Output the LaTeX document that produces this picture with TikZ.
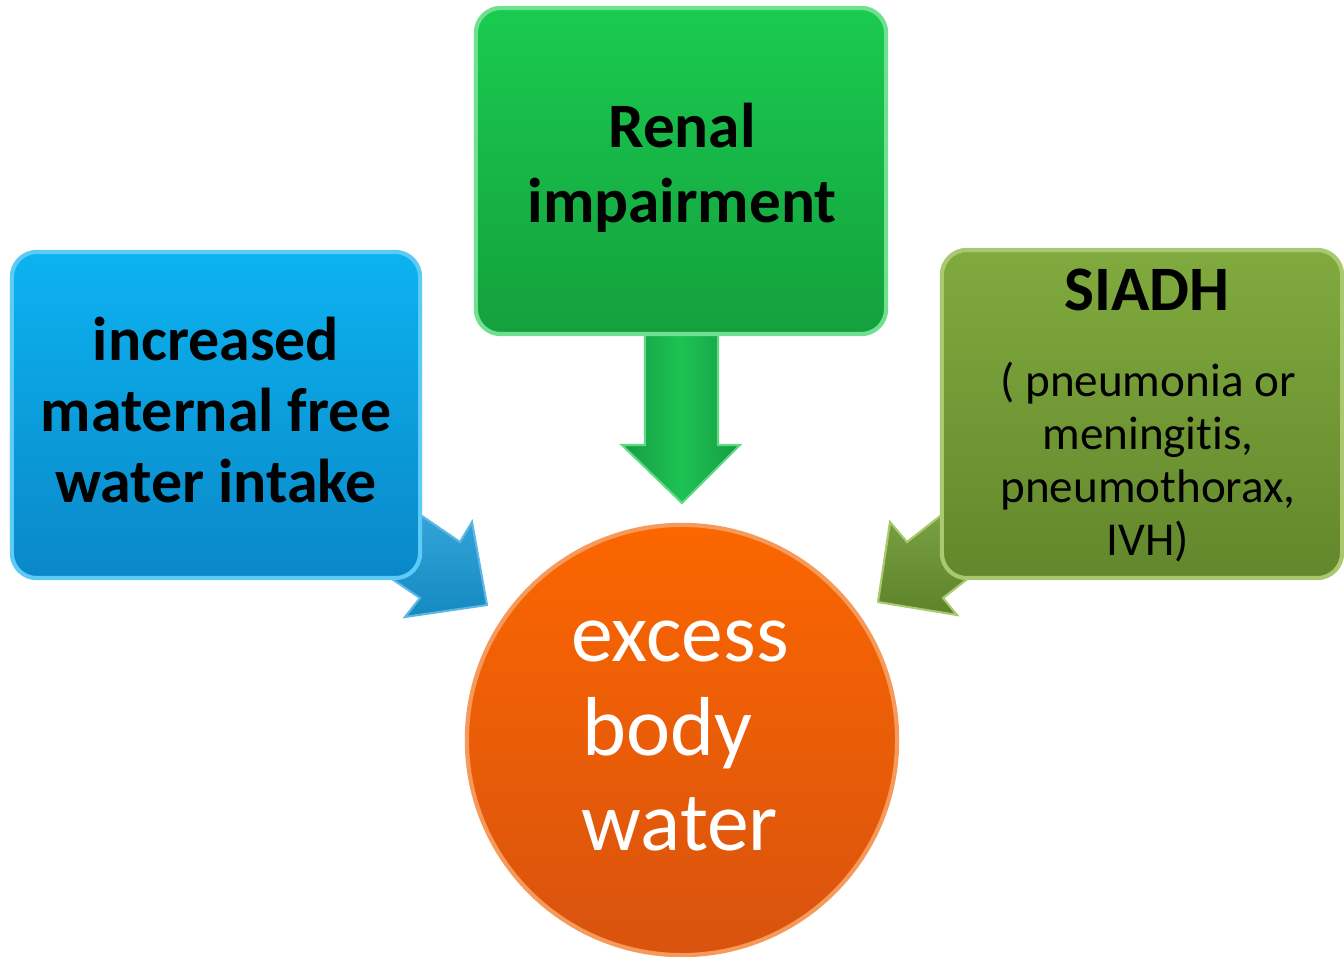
\documentclass[tikz,border=0pt]{standalone}
\usepackage{fontspec}
\setmainfont{Carlito}[Ligatures={NoCommon,NoRare}]
\definecolor{blueTop}{HTML}{0DB2F0}
\definecolor{blueBot}{HTML}{0A88C8}
\definecolor{blueEdge}{HTML}{5CCBF5}
\definecolor{blueArrow}{HTML}{1699D6}
\definecolor{greenTop}{HTML}{1ACB50}
\definecolor{greenBot}{HTML}{14A03D}
\definecolor{greenEdge}{HTML}{6FE08F}
\definecolor{greenArrTop}{HTML}{1DC254}
\definecolor{greenArrBot}{HTML}{179C42}
\definecolor{oliveTop}{HTML}{80AA3E}
\definecolor{oliveBot}{HTML}{63872C}
\definecolor{oliveEdge}{HTML}{A9C86F}
\definecolor{oliveArrow}{HTML}{6E9A31}
\definecolor{orangeTop}{HTML}{FB6600}
\definecolor{orangeBot}{HTML}{D9530F}
\definecolor{orangeEdge}{HTML}{F59A5A}
\begin{document}
\begin{tikzpicture}[x=0.01cm,y=-0.01cm,
  box/.style={rectangle,rounded corners=0.25cm,inner sep=0pt,line width=1.2pt},
  boldtext/.style={align=center,text=black,font=\bfseries\fontsize{17.6}{20.2}\selectfont},
  arrowfill/.style={line width=0.6pt,line join=miter}]
\useasboundingbox (0,0) rectangle (1344,957);

% ---- block arrows (drawn first, boxes cover their tails) ----
\coordinate (bA1) at (394,497);
\coordinate (bA2) at (460,542);
\coordinate (bA3) at (472,522);
\coordinate (bA4) at (487,605);
\coordinate (bA5) at (405,617);
\coordinate (bA6) at (420,598);
\coordinate (bA7) at (370,564);
\fill[arrowfill,top color=blueArrow!85!white,bottom color=blueArrow!90!black,draw=blueArrow!70!white]
  (bA1) -- (bA2) -- (bA3) -- (bA4) -- (bA5) -- (bA6) -- (bA7) -- cycle;

\coordinate (gA1) at (645,320);
\coordinate (gA2) at (645,445);
\coordinate (gA3) at (622,445);
\coordinate (gA4) at (682,503);
\coordinate (gA5) at (740,445);
\coordinate (gA6) at (718,445);
\coordinate (gA7) at (718,320);
\fill[arrowfill,left color=greenArrBot,right color=greenArrBot,middle color=greenArrTop,draw=greenEdge!80!greenArrTop]
  (gA1) -- (gA2) -- (gA3) -- (gA4) -- (gA5) -- (gA6) -- (gA7) -- cycle;

\coordinate (oA1) at (962,499);
\coordinate (oA2) at (907,542);
\coordinate (oA3) at (890,522);
\coordinate (oA4) at (878,602);
\coordinate (oA5) at (957,615);
\coordinate (oA6) at (943,598);
\coordinate (oA7) at (998,555);
\fill[arrowfill,top color=oliveArrow!90!white,bottom color=oliveArrow!85!black,draw=oliveEdge]
  (oA1) -- (oA2) -- (oA3) -- (oA4) -- (oA5) -- (oA6) -- (oA7) -- cycle;

% ---- boxes ----
\node[box,minimum width=4.08cm,minimum height=3.26cm,top color=blueTop,bottom color=blueBot,draw=blueEdge]
  (blue) at (216,415) {};
\node[boldtext] (bluet) at (216,410) {increased\\maternal free\\water intake};

\node[box,minimum width=4.10cm,minimum height=3.26cm,top color=greenTop,bottom color=greenBot,draw=greenEdge]
  (green) at (681,171) {};
\node[boldtext,font=\bfseries\fontsize{18}{21.3}\selectfont] (greent) at (682,168) {Renal\\impairment};

\node[box,minimum width=4.00cm,minimum height=3.28cm,top color=oliveTop,bottom color=oliveBot,draw=oliveEdge]
  (olive) at (1142,414) {};
\node[boldtext,font=\bfseries\fontsize{18}{21}\selectfont] (olivet) at (1147,290) {SIADH};
\node[align=center,text=black,font=\fontsize{13.4}{15.1}\selectfont] (olives) at (1148,462)
  {( pneumonia or\\meningit\kern0pt is,\\pneumothorax,\\IVH)};

% ---- circle ----
\node[circle,minimum size=4.30cm,inner sep=0pt,top color=orangeTop,bottom color=orangeBot,draw=orangeEdge,line width=1.2pt]
  (water) at (682,740) {};
\node[align=center,text=white,font=\fontsize{23.8}{27}\selectfont] (watert) at (680,736) {excess\\\hbox{body\kern0.3em}\\water};
\end{tikzpicture}
\end{document}
